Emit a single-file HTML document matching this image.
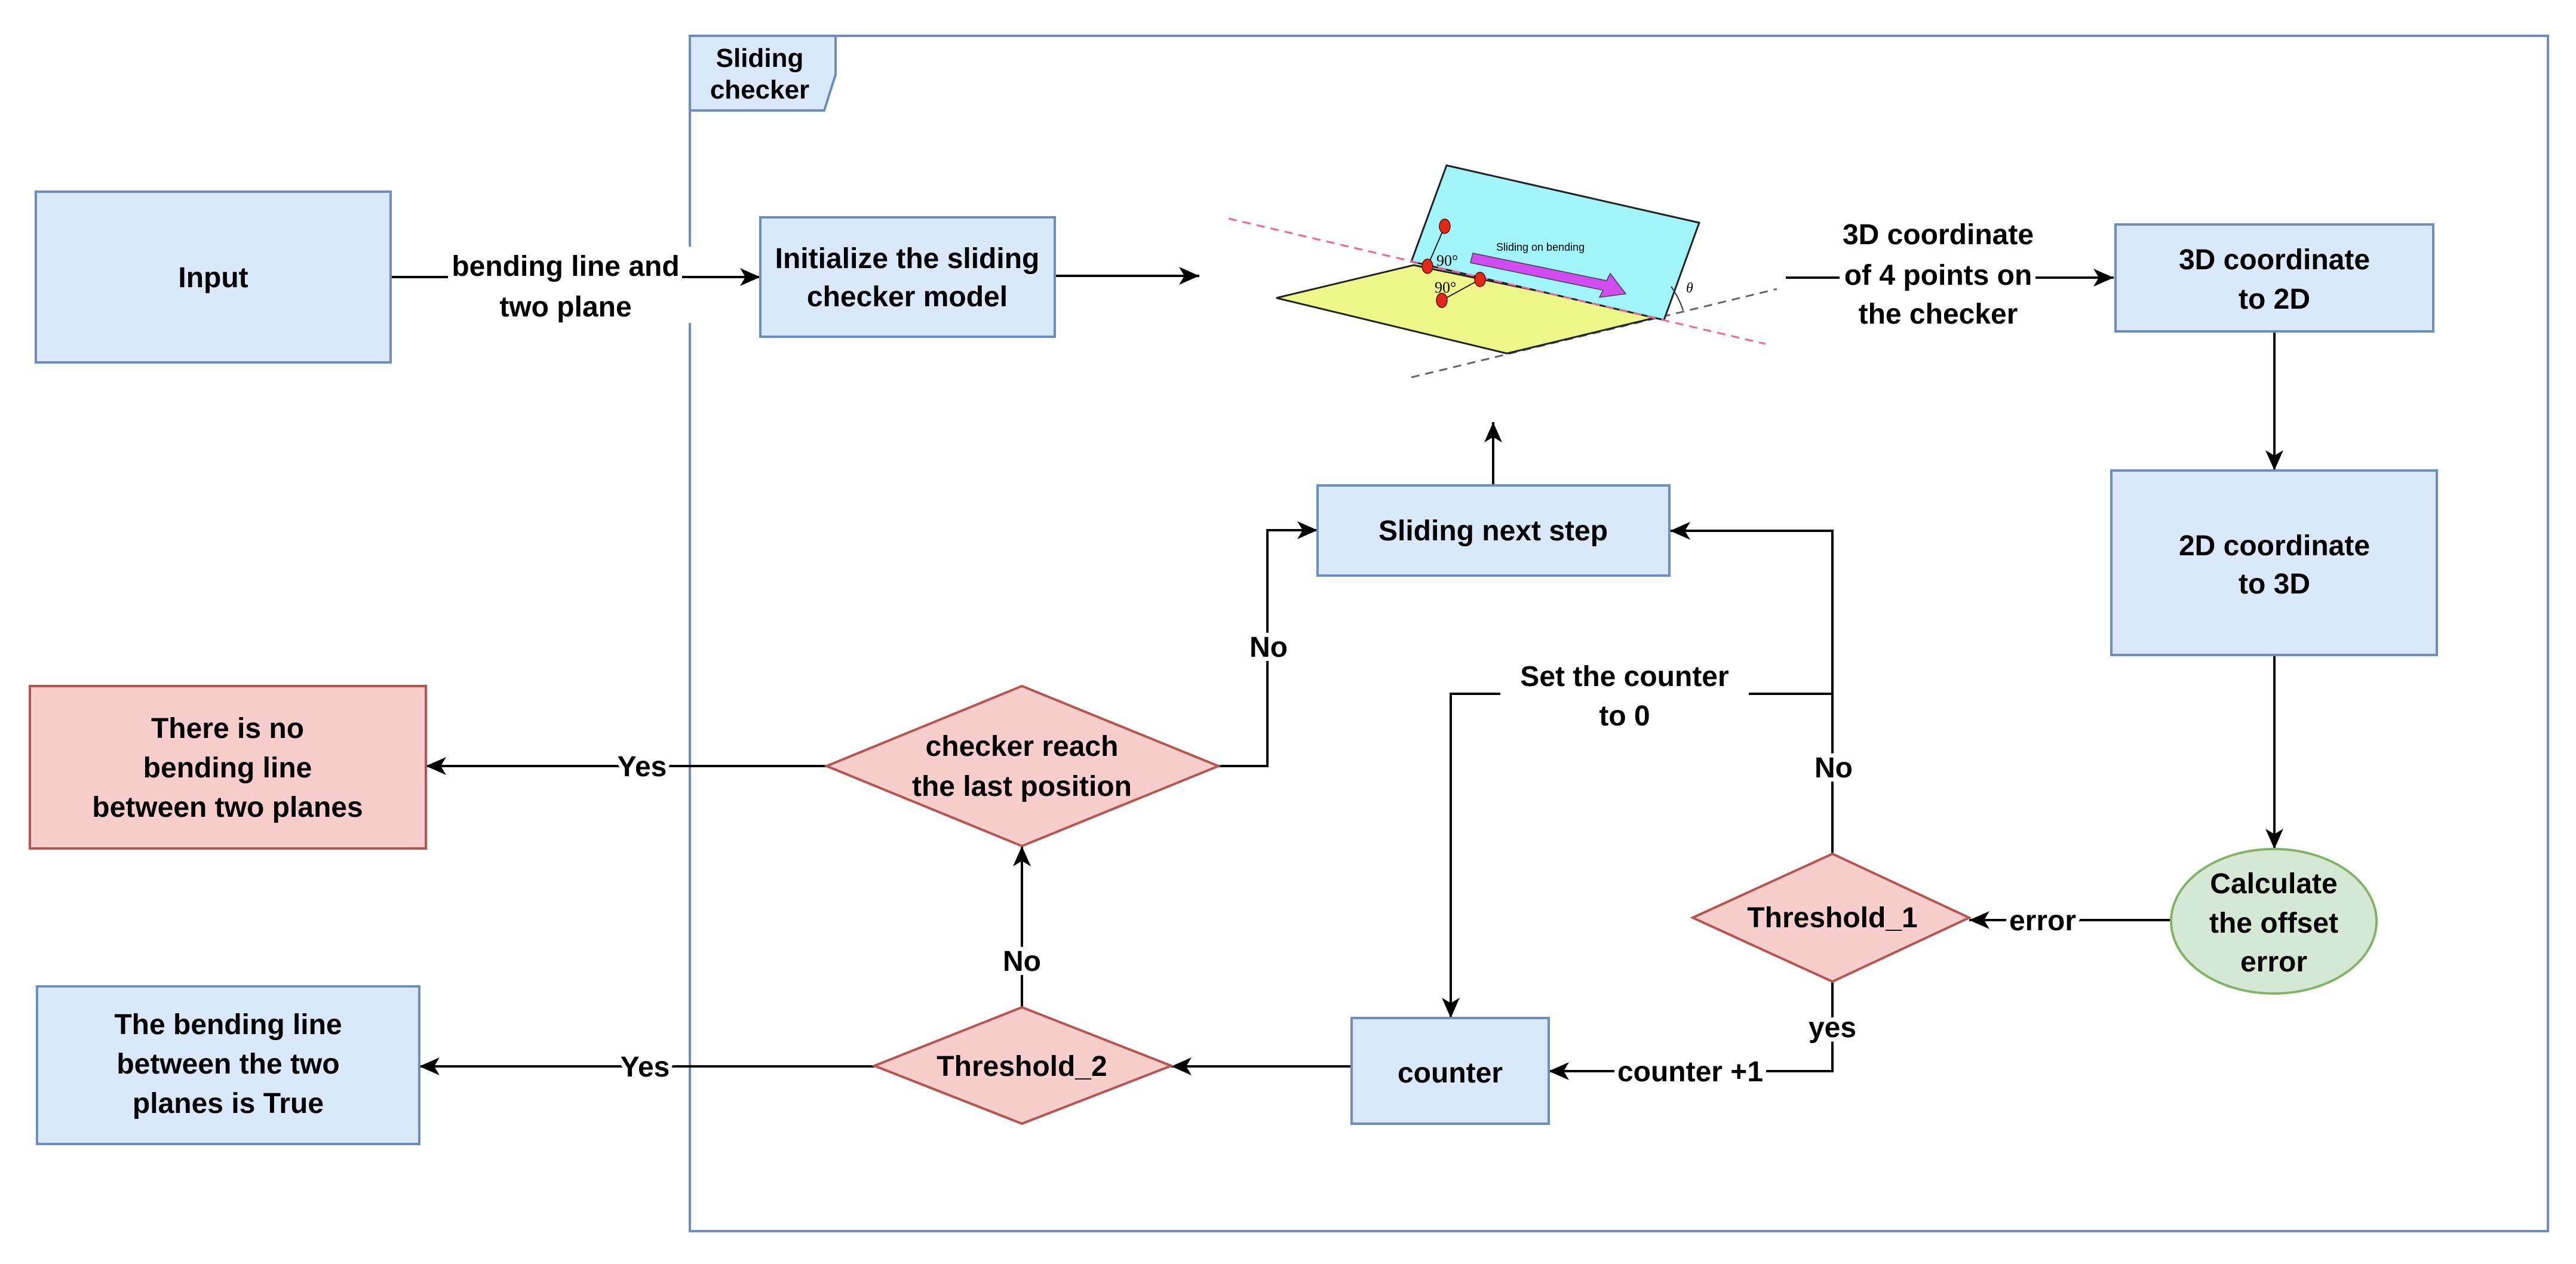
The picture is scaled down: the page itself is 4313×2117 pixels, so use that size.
<!DOCTYPE html>
<html><head><meta charset="utf-8"><style>
html,body{margin:0;padding:0;background:#fff}
svg{display:block}
text{font-family:"Liberation Sans",Arial,sans-serif;font-weight:bold;fill:#000}
.lb{stroke:#fff;stroke-width:14px;paint-order:stroke;stroke-linejoin:round}
</style></head><body>
<svg width="4313" height="2117" viewBox="0 0 4313 2117" xmlns="http://www.w3.org/2000/svg">
<defs>
<marker id="a" markerWidth="36" markerHeight="30" refX="34" refY="15" orient="auto" markerUnits="userSpaceOnUse">
<path d="M0,0 L34,15 L0,30 L9,15 Z" fill="#000"/>
</marker>
</defs>
<rect width="4313" height="2117" fill="#fff"/>
<!-- container -->
<rect x="1155" y="60" width="3111" height="2002" fill="none" stroke="#6c8ebf" stroke-width="4"/>
<rect x="1145" y="413" width="20" height="128" fill="#fff"/>
<polygon points="1155,60 1399,60 1399,125 1380,185 1155,185" fill="#dae8fc" stroke="#6c8ebf" stroke-width="4"/>
<text x="1272" y="112" font-size="44" text-anchor="middle">Sliding</text>
<text x="1272" y="165" font-size="44" text-anchor="middle">checker</text>

<g stroke="#000" stroke-width="4" fill="none">
<line x1="654" y1="464" x2="1273" y2="464" marker-end="url(#a)"/>
<line x1="1766" y1="462" x2="2008" y2="462" marker-end="url(#a)"/>
<line x1="2990" y1="465" x2="3539" y2="465" marker-end="url(#a)"/>
<line x1="3808" y1="555" x2="3808" y2="788" marker-end="url(#a)"/>
<line x1="3808" y1="1097" x2="3808" y2="1422" marker-end="url(#a)"/>
<line x1="3634" y1="1541" x2="3297" y2="1541" marker-end="url(#a)"/>
<polyline points="3068,1430 3068,889 2796,889" marker-end="url(#a)"/>
<polyline points="3068,1162 2429,1162 2429,1705" marker-end="url(#a)"/>
<polyline points="3068,1644 3068,1794 2593,1794" marker-end="url(#a)"/>
<line x1="2263" y1="1786" x2="1961" y2="1786" marker-end="url(#a)"/>
<line x1="1464" y1="1786" x2="702" y2="1786" marker-end="url(#a)"/>
<line x1="1711" y1="1687" x2="1711" y2="1417" marker-end="url(#a)"/>
<line x1="1384" y1="1283" x2="713" y2="1283" marker-end="url(#a)"/>
<polyline points="2040,1283 2122,1283 2122,888 2206,888" marker-end="url(#a)"/>
<line x1="2500" y1="813" x2="2500" y2="707" marker-end="url(#a)"/>
</g>

<!-- label backgrounds -->
<g fill="#fff">
<rect x="750" y="425" width="392" height="55"/>
<rect x="3080" y="440" width="328" height="45"/>
<rect x="2703" y="1775" width="254" height="40"/>
<rect x="2512" y="1150" width="416" height="25"/>
</g>

<!-- boxes -->
<g stroke-width="4">
<rect x="60" y="321" width="594" height="286" fill="#dae8fc" stroke="#6c8ebf"/>
<rect x="1273" y="364" width="493" height="200" fill="#dae8fc" stroke="#6c8ebf"/>
<rect x="3542" y="376" width="532" height="179" fill="#dae8fc" stroke="#6c8ebf"/>
<rect x="3535" y="788" width="545" height="309" fill="#dae8fc" stroke="#6c8ebf"/>
<ellipse cx="3807" cy="1543" rx="172" ry="121" fill="#d5e8d4" stroke="#82b366"/>
<polygon points="2834,1537 3068,1430 3297,1537 3068,1644" fill="#f8cecc" stroke="#b85450"/>
<rect x="2206" y="813" width="589" height="151" fill="#dae8fc" stroke="#6c8ebf"/>
<polygon points="1384,1283 1711,1149 2040,1283 1711,1417" fill="#f8cecc" stroke="#b85450"/>
<polygon points="1464,1785 1711,1687 1961,1785 1711,1882" fill="#f8cecc" stroke="#b85450"/>
<rect x="2263" y="1705" width="330" height="177" fill="#dae8fc" stroke="#6c8ebf"/>
<rect x="50" y="1149" width="663" height="272" fill="#f8cecc" stroke="#b85450"/>
<rect x="62" y="1652" width="640" height="264" fill="#dae8fc" stroke="#6c8ebf"/>
</g>

<g font-size="48" text-anchor="middle">
<text x="357" y="481">Input</text>
<text class="lb" x="947" y="462">bending line and</text>
<text class="lb" x="947" y="530">two plane</text>
<text x="1519" y="449">Initialize the sliding</text>
<text x="1519" y="513">checker model</text>
<text class="lb" x="3245" y="409">3D coordinate</text>
<text class="lb" x="3245" y="477">of 4 points on</text>
<text class="lb" x="3245" y="542">the checker</text>
<text x="3808" y="451">3D coordinate</text>
<text x="3808" y="517">to 2D</text>
<text x="3808" y="930">2D coordinate</text>
<text x="3808" y="994">to 3D</text>
<text x="3807" y="1496">Calculate</text>
<text x="3807" y="1562">the offset</text>
<text x="3807" y="1627">error</text>
<text class="lb" x="3420" y="1558">error</text>
<text x="3068" y="1553">Threshold_1</text>
<text class="lb" x="3070" y="1302">No</text>
<text class="lb" x="2720" y="1149">Set the counter</text>
<text class="lb" x="2720" y="1215">to 0</text>
<text class="lb" x="3068" y="1737">yes</text>
<text class="lb" x="2830" y="1811">counter +1</text>
<text x="2428" y="1813">counter</text>
<text x="1711" y="1802">Threshold_2</text>
<text class="lb" x="1711" y="1626">No</text>
<text class="lb" x="1080" y="1803">Yes</text>
<text x="1711" y="1266">checker reach</text>
<text x="1711" y="1333">the last position</text>
<text class="lb" x="1075" y="1300">Yes</text>
<text class="lb" x="2124" y="1100">No</text>
<text x="2500" y="905">Sliding next step</text>
<text x="381" y="1236">There is no</text>
<text x="381" y="1302">bending line</text>
<text x="381" y="1368">between two planes</text>
<text x="382" y="1732">The bending line</text>
<text x="382" y="1798">between the two</text>
<text x="382" y="1864">planes is True</text>
</g>

<!-- illustration -->
<g>
<line x1="2363" y1="632" x2="2975" y2="484" stroke="#666" stroke-width="3" stroke-dasharray="14,10"/>
<polygon points="2367,444 2780,530 2523,592 2137,499" fill="#eef88a" stroke="#222" stroke-width="3"/>
<polygon points="2422,277 2845,373 2786,536 2363,438" fill="#a0f4fa" stroke="#222" stroke-width="3"/>
<line x1="2057" y1="366" x2="2956" y2="576" stroke="#ee6699" stroke-width="3" stroke-dasharray="14,10"/>
<line x1="2419" y1="379" x2="2390" y2="446" stroke="#222" stroke-width="2"/>
<line x1="2478" y1="468" x2="2414" y2="503" stroke="#222" stroke-width="2"/>
<polygon points="2466,424 2690,470 2696,458 2722,492 2678,498 2684,486 2462,440" fill="#d04cf0" stroke="#444" stroke-width="1.5"/>
<g fill="#e02a18" stroke="#600" stroke-width="1.5">
<ellipse cx="2419" cy="379" rx="9" ry="12"/>
<ellipse cx="2390" cy="446" rx="9" ry="12"/>
<ellipse cx="2478" cy="468" rx="9" ry="12"/>
<ellipse cx="2414" cy="503" rx="9" ry="12"/>
</g>
<text x="2405" y="445" font-size="26" style="font-family:'Liberation Serif',serif;font-weight:normal">90°</text>
<text x="2402" y="490" font-size="26" style="font-family:'Liberation Serif',serif;font-weight:normal">90°</text>
<text x="2505" y="420" font-size="18" style="font-weight:normal">Sliding on bending</text>
<text x="2823" y="490" font-size="24" style="font-family:'Liberation Serif',serif;font-style:italic;font-weight:normal">θ</text>
<path d="M2798,480 Q2812,500 2818,520" fill="none" stroke="#333" stroke-width="2"/>
</g>
</svg>
</body></html>
